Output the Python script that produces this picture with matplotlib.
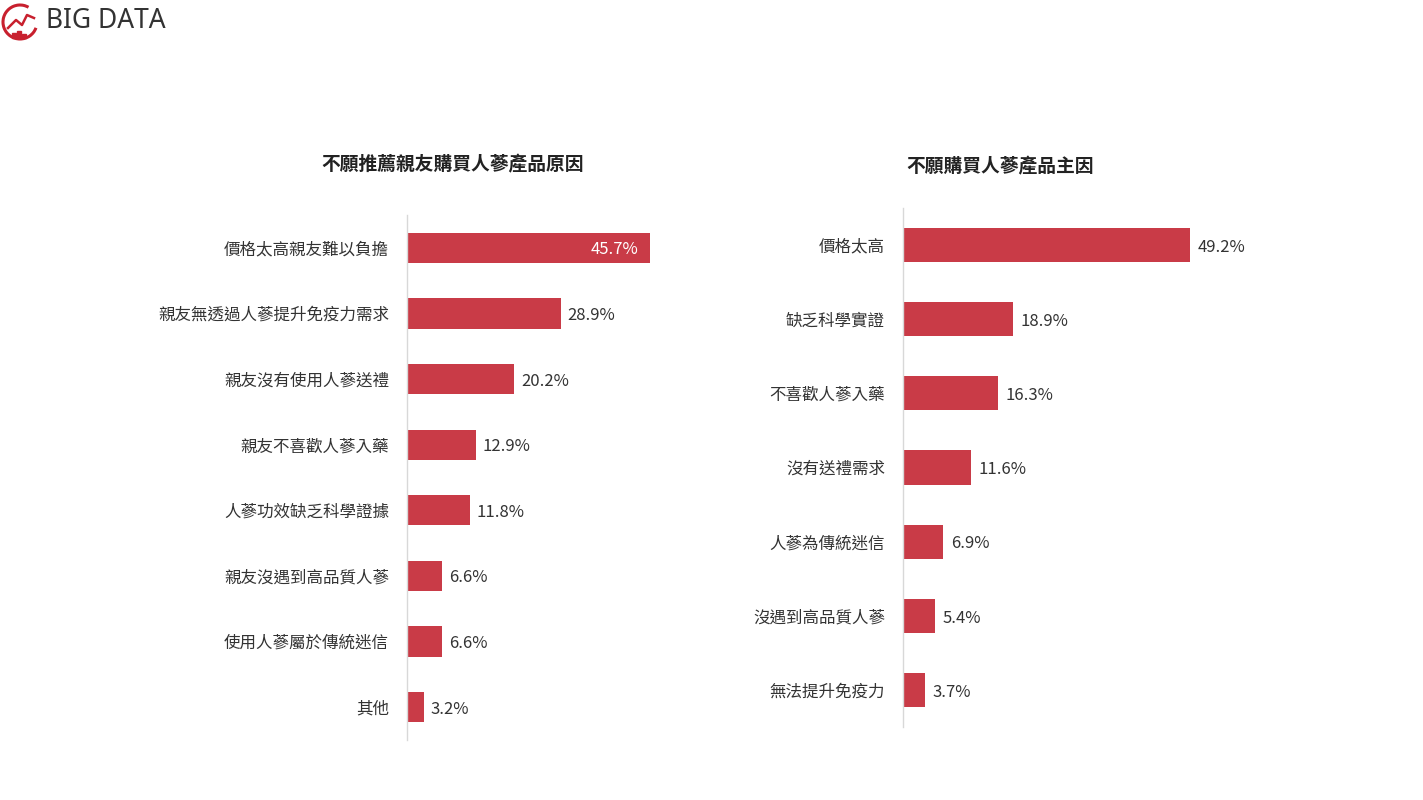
import matplotlib
matplotlib.use('Agg')
import matplotlib.pyplot as plt
from matplotlib.patches import Arc

plt.rcParams['font.family'] = ['Noto Sans CJK TC', 'DejaVu Sans']

left_title = '不願推薦親友購買人蔘產品原因'
left_labels = ['價格太高親友難以負擔', '親友無透過人蔘提升免疫力需求', '親友沒有使用人蔘送禮',
               '親友不喜歡人蔘入藥', '人蔘功效缺乏科學證據', '親友沒遇到高品質人蔘',
               '使用人蔘屬於傳統迷信', '其他']
left_values = [45.7, 28.9, 20.2, 12.9, 11.8, 6.6, 6.6, 3.2]

right_title = '不願購買人蔘產品主因'
right_labels = ['價格太高', '缺乏科學實證', '不喜歡人蔘入藥', '沒有送禮需求',
                '人蔘為傳統迷信', '沒遇到高品質人蔘', '無法提升免疫力']
right_values = [49.2, 18.9, 16.3, 11.6, 6.9, 5.4, 3.7]

BAR = '#c93b47'
TXT = '#333333'

W, H = 1423, 800
fig = plt.figure(figsize=(W / 100, H / 100), dpi=100)


def draw_panel(rect, labels, values, inside_first=False):
    ax = fig.add_axes(rect)
    y = range(len(values))
    bars = ax.barh(y, values, height=0.46, color=BAR)
    ax.set_ylim(len(values) - 0.5, -0.5)
    ax.set_xlim(0, 50)
    ax.set_yticks(list(y))
    ax.set_yticklabels(labels, fontsize=11.9, color=TXT)
    ax.tick_params(axis='y', length=0, pad=13)
    ax.set_xticks([])
    for s in ['top', 'right', 'bottom']:
        ax.spines[s].set_visible(False)
    ax.spines['left'].set_color('#d8d8d8')
    ax.spines['left'].set_linewidth(1)
    for i, (b, v) in enumerate(zip(bars, values)):
        if inside_first and i == 0:
            ax.text(v - 2.3, i + 0.03, f'{v}%', va='center', ha='right', color='white', fontsize=12)
        else:
            ax.text(v + 1.3, i + 0.03, f'{v}%', va='center', ha='left', color=TXT, fontsize=12)
    return ax


draw_panel([407 / W, 1 - 740 / H, 266 / W, 525 / H], left_labels, left_values, inside_first=True)
draw_panel([903 / W, 1 - 727 / H, 292 / W, 519 / H], right_labels, right_values)

fig.text(453 / W, 1 - 165 / H, left_title, ha='center', va='center', fontsize=13.5,
         fontweight='bold', color='#222222')
fig.text(1000 / W, 1 - 167 / H, right_title, ha='center', va='center', fontsize=13.5,
         fontweight='bold', color='#222222')

# logo
lax = fig.add_axes([0, 1 - 45 / H, 45 / W, 45 / H])
lax.set_xlim(0, 45)
lax.set_ylim(45, 0)
lax.axis('off')
lax.add_patch(Arc((20, 22), 34, 34, theta1=20, theta2=300, color='#c8202e', lw=2.2))
lax.plot([8, 16, 22, 27, 34], [28, 20, 25, 15, 18], color='#c8202e', lw=1.8)
for bx, bh in [(12, 5), (17, 7), (22, 4)]:
    lax.add_patch(plt.Rectangle((bx, 38 - bh), 4, bh, color='#c8202e'))
fig.text(46 / W, 1 - 21 / H, 'BIG DATA', ha='left', va='center', fontsize=19,
         color='#333333', family=['Noto Sans', 'DejaVu Sans'], fontweight='medium')

fig.savefig('out.png', dpi=100, facecolor='white')
